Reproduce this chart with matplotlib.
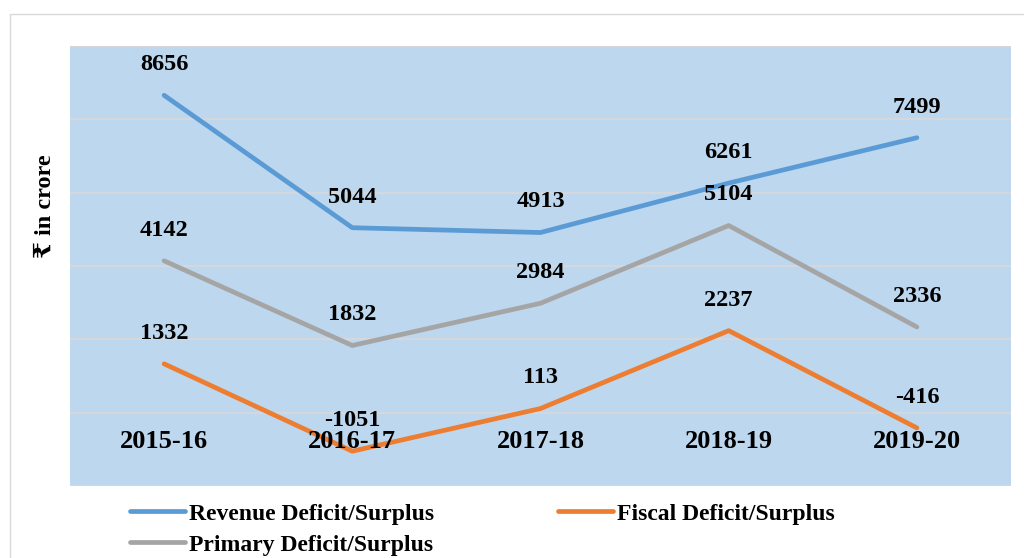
import matplotlib.pyplot as plt
from matplotlib.patches import Rectangle

# Data
years = ["2015-16", "2016-17", "2017-18", "2018-19", "2019-20"]
revenue = [8656, 5044, 4913, 6261, 7499]
fiscal = [1332, -1051, 113, 2237, -416]
primary = [4142, 1832, 2984, 5104, 2336]

serif = ["Liberation Serif", "DejaVu Serif", "DejaVu Sans"]
plt.rcParams["font.family"] = serif

fig = plt.figure(figsize=(10.24, 5.58), dpi=100)

# outer chart border
fig.patches.append(Rectangle((10 / 1024, -0.1), 1.2, 1 - 14 / 558 + 0.1,
                             transform=fig.transFigure, fill=False,
                             edgecolor="#D9D9D9", linewidth=1))

ax = fig.add_axes([70 / 1024, 1 - 486 / 558, (1011 - 70) / 1024, (486 - 46) / 558])
ax.set_facecolor("#BDD7EE")

x = list(range(len(years)))
series = [
    ("Revenue Deficit/Surplus", revenue, "#5B9BD5"),
    ("Primary Deficit/Surplus", primary, "#A5A5A5"),
    ("Fiscal Deficit/Surplus", fiscal, "#ED7D31"),
]
handles = []
for name, vals, col in series:
    h, = ax.plot(x, vals, color=col, linewidth=3.4, solid_capstyle="round",
                 solid_joinstyle="round", label=name, zorder=3)
    handles.append(h)
    for xi, v in zip(x, vals):
        ax.annotate(str(v), (xi, v), xytext=(0, 22), textcoords="offset points",
                    ha="center", va="center", fontsize=17.5, fontweight="bold")

ax.set_xlim(-0.5, len(years) - 0.5)
ax.set_ylim(-2000, 10000)
ax.set_yticks(range(-2000, 10001, 2000))
ax.set_yticklabels([])
ax.set_xticks([])
ax.tick_params(left=False, bottom=False)
ax.grid(axis="y", color="#D9D9D9", linewidth=1.2)
ax.set_axisbelow(True)
for s in ax.spines.values():
    s.set_visible(False)

# category labels sit on the zero line
for xi, yr in zip(x, years):
    ax.annotate(yr, (xi, 0), xytext=(0, -21), textcoords="offset points",
                ha="center", va="center", fontsize=19, fontweight="bold")

fig.text(45 / 1024, 1 - 206 / 558, "₹ in crore", rotation=90, ha="center",
         va="center", fontsize=17.5, fontweight="bold")

fig.legend(handles=handles, loc="upper left", bbox_to_anchor=(130 / 1024, 1 - 503 / 558),
           ncol=2, frameon=False, prop={"size": 17, "weight": "bold"},
           handlelength=2.33, handletextpad=0.17, columnspacing=5.25, labelspacing=0.4,
           borderaxespad=0, borderpad=0)

fig.savefig("out.png", dpi=100)
